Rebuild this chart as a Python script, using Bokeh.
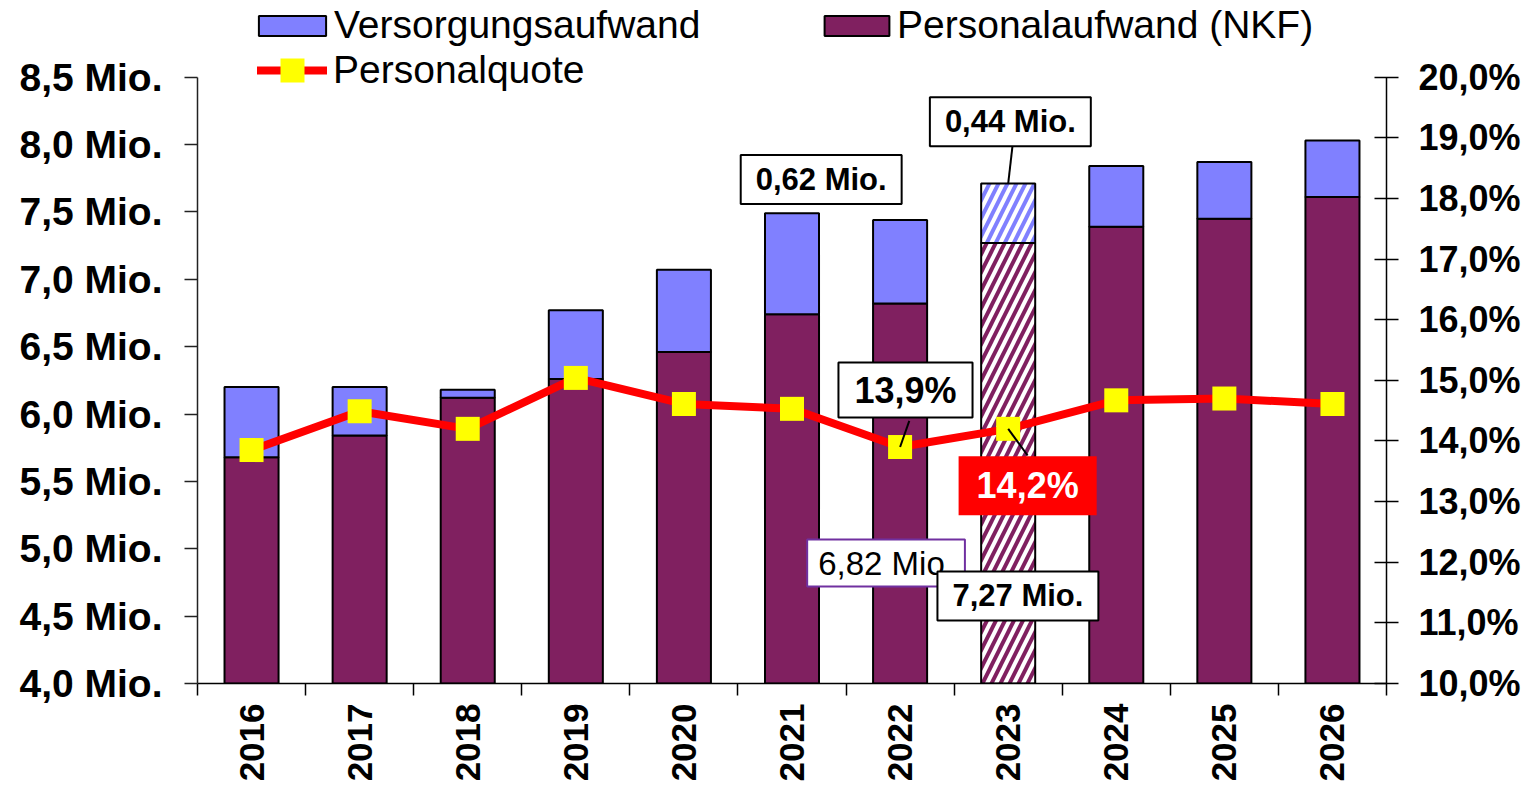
from math import pi
from bokeh.plotting import figure
from bokeh.models import (ColumnDataSource, Range1d, LinearAxis, FixedTicker,
                          CustomJSTickFormatter, NumeralTickFormatter, Legend,
                          LegendItem, Label)
from bokeh.core.properties import field
from bokeh.embed import file_html
from bokeh.resources import INLINE

# ---------------- data ----------------
years = [2016, 2017, 2018, 2019, 2020, 2021, 2022, 2023, 2024, 2025, 2026]
personalaufwand = [5.68, 5.84, 6.12, 6.26, 6.46, 6.74, 6.82, 7.27, 7.39, 7.45, 7.61]
versorgungsaufwand = [0.52, 0.36, 0.06, 0.51, 0.61, 0.75, 0.62, 0.44, 0.45, 0.42, 0.42]
personalquote = [13.85, 14.49, 14.20, 15.04, 14.61, 14.53, 13.9, 14.2, 14.67, 14.70, 14.61]
hatched_year = 2023

mio_ticks = [4.0, 4.5, 5.0, 5.5, 6.0, 6.5, 7.0, 7.5, 8.0, 8.5]
pct_ticks = [10, 11, 12, 13, 14, 15, 16, 17, 18, 19, 20]

series_names = ["Versorgungsaufwand", "Personalaufwand (NKF)", "Personalquote"]

# ---------------- layout constants (pixels) ----------------
W, H = 1523, 784
FRAME_LEFT, FRAME_RIGHT = 197, 1388
AXIS_TOP, FRAME_BOTTOM = 77, 686          # 8,5 Mio. / 20 % sit at AXIS_TOP
axis_h = FRAME_BOTTOM - AXIS_TOP

# extend the ranges upward so the area above the top tick can hold the legend
mio_top = mio_ticks[-1] + (mio_ticks[-1] - mio_ticks[0]) * AXIS_TOP / axis_h
pct_top = pct_ticks[-1] + (pct_ticks[-1] - pct_ticks[0]) * AXIS_TOP / axis_h

# ---------------- derived ----------------
total = [round(p_ + v_, 2) for p_, v_ in zip(personalaufwand, versorgungsaufwand)]
bar_hatch = ["/" if y == hatched_year else " " for y in years]

src = ColumnDataSource(dict(year=years, personal=personalaufwand, total=total,
                            quote=personalquote, bar_hatch=bar_hatch))

FONT = "Liberation Sans"
BLUE = "#8080FF"
PURPLE = "#802060"

p = figure(width=W, height=H,
           x_range=Range1d(years[0] - 0.5, years[-1] + 0.5),
           y_range=Range1d(mio_ticks[0], mio_top),
           output_backend="svg", toolbar_location=None,
           min_border_left=FRAME_LEFT, min_border_right=W - FRAME_RIGHT,
           min_border_top=0, min_border_bottom=H - FRAME_BOTTOM,
           outline_line_color=None, background_fill_color="white",
           border_fill_color="white")
p.xgrid.visible = False
p.ygrid.visible = False
p.extra_y_ranges = {"pct": Range1d(pct_ticks[0], pct_top)}

# bars
r_purple = p.vbar(x="year", bottom=0, top="personal", width=0.5, source=src,
                  fill_color=PURPLE, line_color="black", line_width=2,
                  hatch_pattern=field("bar_hatch"), hatch_color="white",
                  hatch_weight=4, hatch_scale=18)
r_blue = p.vbar(x="year", bottom="personal", top="total", width=0.5, source=src,
                fill_color=BLUE, line_color="black", line_width=2,
                hatch_pattern=field("bar_hatch"), hatch_color="white",
                hatch_weight=4, hatch_scale=18)

# line
r_line = p.line(x="year", y="quote", source=src, y_range_name="pct",
                line_color="#FF0000", line_width=8, line_join="round", line_cap="round")
r_pts = p.scatter(x="year", y="quote", source=src, y_range_name="pct",
                  marker="square", size=24, fill_color="#FFFF00", line_color=None)

# ---------------- axes ----------------
xa = p.xaxis[0]
xa.ticker = FixedTicker(ticks=years,
                        minor_ticks=[y - 0.5 for y in years] + [years[-1] + 0.5])
xa.formatter = NumeralTickFormatter(format="0")
xa.major_label_orientation = pi / 2
xa.major_tick_out = 0
xa.major_tick_in = 0
xa.minor_tick_out = 12
xa.minor_tick_in = 0
xa.minor_tick_line_color = "black"
xa.minor_tick_line_width = 1.5
xa.axis_line_color = "black"
xa.axis_line_width = 1.5
xa.major_label_standoff = 8
xa.major_label_text_font = FONT
xa.major_label_text_font_style = "bold"
xa.major_label_text_font_size = "35px"
xa.major_label_text_color = "black"

ya = p.yaxis[0]
ya.ticker = FixedTicker(ticks=mio_ticks, minor_ticks=[])
ya.bounds = (mio_ticks[0], mio_ticks[-1])
ya.formatter = CustomJSTickFormatter(code="return tick.toFixed(1).replace('.', ',') + ' Mio.'")
ya.major_tick_out = 13
ya.major_tick_in = 0
ya.minor_tick_out = 0
ya.minor_tick_in = 0
ya.major_tick_line_color = "#222222"
ya.major_tick_line_width = 1.5
ya.axis_line_color = "#222222"
ya.axis_line_width = 1.5
ya.major_label_standoff = 22
ya.major_label_text_font = FONT
ya.major_label_text_font_style = "bold"
ya.major_label_text_font_size = "39px"
ya.major_label_text_color = "black"

ra = LinearAxis(y_range_name="pct",
                ticker=FixedTicker(ticks=pct_ticks, minor_ticks=[]),
                formatter=CustomJSTickFormatter(code="return tick.toFixed(1).replace('.', ',') + '%'"))
ra.bounds = (pct_ticks[0], pct_ticks[-1])
ra.major_tick_out = 12
ra.major_tick_in = 12
ra.minor_tick_out = 0
ra.minor_tick_in = 0
ra.major_tick_line_color = "black"
ra.major_tick_line_width = 1.5
ra.axis_line_color = "black"
ra.axis_line_width = 1.5
ra.major_label_standoff = 20
ra.major_label_text_font = FONT
ra.major_label_text_font_style = "bold"
ra.major_label_text_font_size = "36px"
ra.major_label_text_color = "black"
p.add_layout(ra, "right")

# ---------------- callouts ----------------
i22 = years.index(2022)
i23 = years.index(hatched_year)


def mio(v):
    return f"{v:.2f}".replace(".", ",") + " Mio."


def pct(v):
    return f"{v:.1f}".replace(".", ",") + "%"


# leader lines
p.segment(x0=[years[i23] + 0.04], y0=[total[i23] + 0.28],
          x1=[years[i23]], y1=[total[i23]], line_color="black", line_width=2)
p.segment(x0=[years[i22] + 0.085], y0=[personalquote[i22] + 0.43],
          x1=[years[i22]], y1=[personalquote[i22]], line_color="black", line_width=2,
          y_range_name="pct")
p.segment(x0=[years[i23]], y0=[personalquote[i23]],
          x1=[years[i23] + 0.18], y1=[personalquote[i23] - 0.44], line_color="black",
          line_width=2, y_range_name="pct")


def callout(text, x, y, size, bold=True, y_range="default", bg="white", border="black",
            color="black", px=15, py=7):
    lab = Label(x=x, y=y, text=text, y_range_name=y_range,
                text_font=FONT, text_font_size=f"{size}px",
                text_font_style="bold" if bold else "normal",
                text_color=color, text_align="center", text_baseline="middle",
                background_fill_color=bg, border_line_color=border,
                border_line_width=2,
                padding=dict(left=px, right=px, top=py, bottom=py))
    p.add_layout(lab)
    return lab


callout(mio(versorgungsaufwand[i22]), years[i22] - 0.73, total[i22] + 0.30, 31)
callout(mio(versorgungsaufwand[i23]), years[i23] + 0.02, total[i23] + 0.46, 31)
callout(pct(personalquote[i22]), years[i22] + 0.05, personalquote[i22] + 0.94, 36,
        y_range="pct", px=16, py=7)
callout(pct(personalquote[i23]), years[i23] + 0.18, personalquote[i23] - 0.94, 36,
        y_range="pct", bg="#FF0000", border=None, color="white", px=18, py=9)
callout(mio(personalaufwand[i22]), years[i22] - 0.13, 4.894, 33, bold=False,
        border="#7030A0", px=11, py=5)
callout(mio(personalaufwand[i23]), years[i23] + 0.09, 4.65, 31)

# ---------------- legends (inside the frame, above the top tick) ----------------


def make_legend(label, renderers, loc, gw, gh, standoff):
    leg = Legend(items=[LegendItem(label=label, renderers=renderers)],
                 location=loc, orientation="vertical",
                 glyph_width=gw, glyph_height=gh, label_standoff=standoff,
                 padding=0, margin=0, spacing=0,
                 border_line_color=None, background_fill_alpha=0,
                 label_text_font=FONT, label_text_font_size="39px",
                 label_text_color="black")
    p.add_layout(leg)


make_legend(series_names[0], [r_blue], (53, 636), 84, 25, 0)
make_legend(series_names[1], [r_purple], (619, 636), 81, 25, 0)
make_legend(series_names[2], [r_line, r_pts], (60, 583), 70, 60, 6)

open("out.html", "w").write(file_html(p, INLINE))
